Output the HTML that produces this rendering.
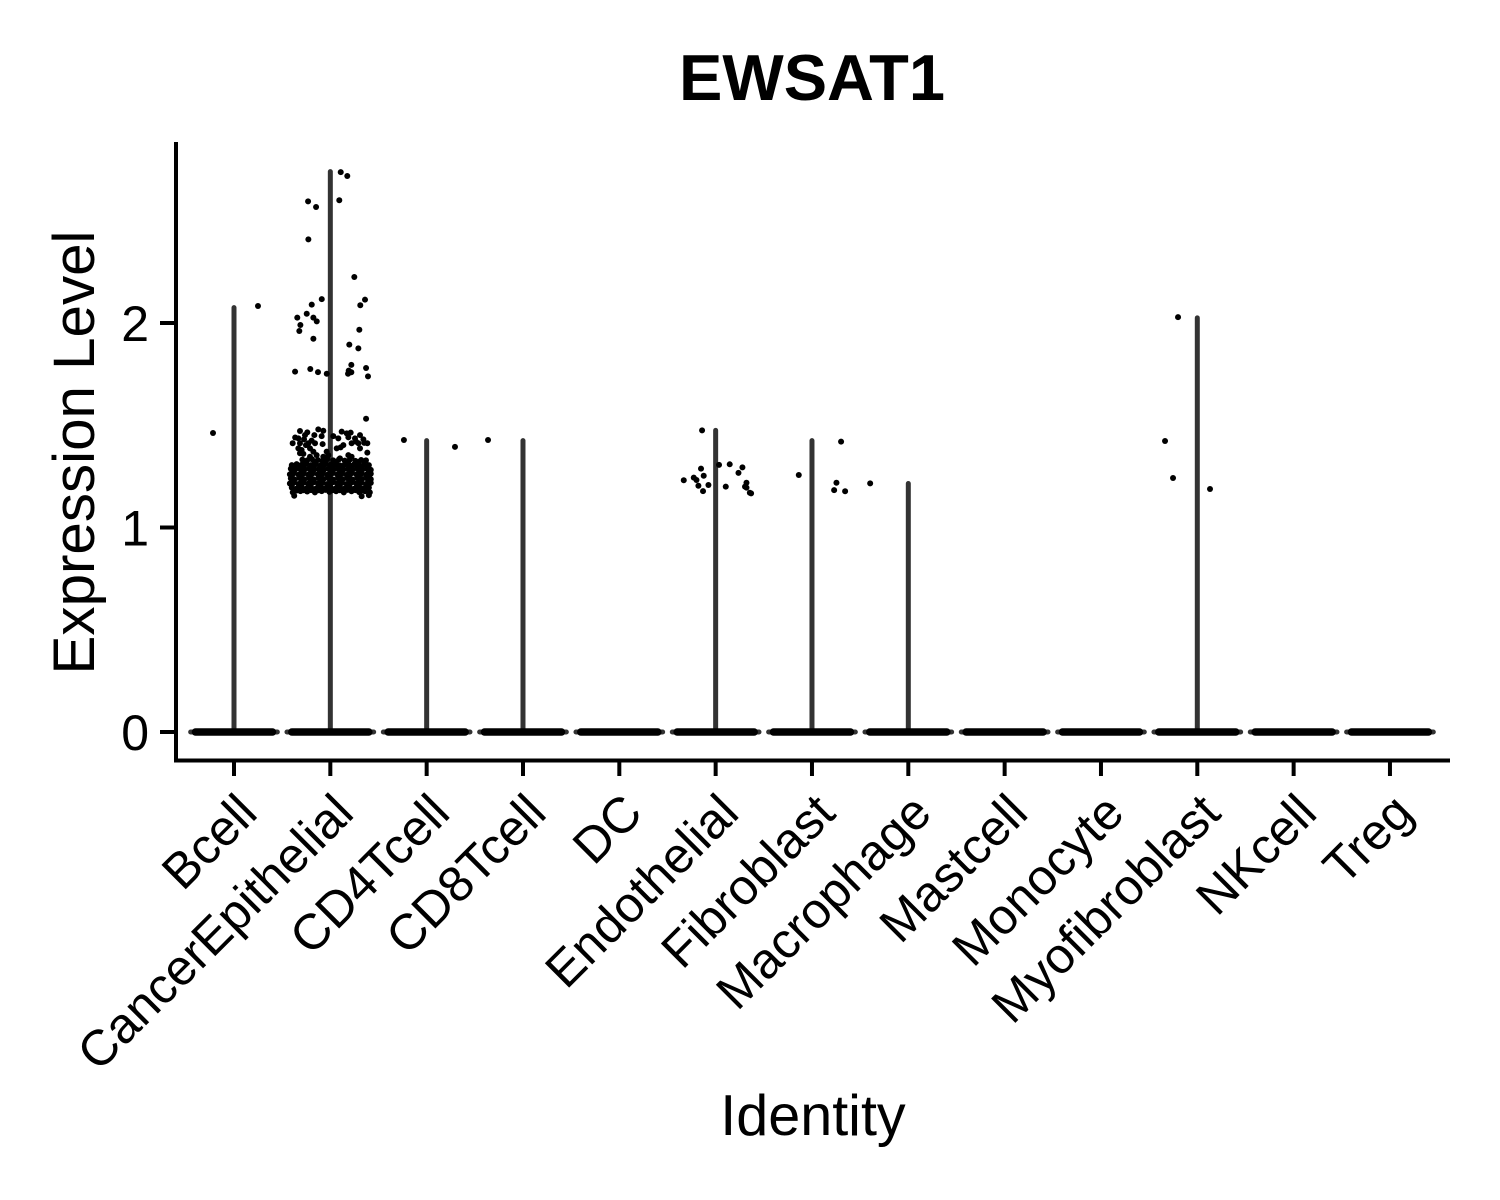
<!DOCTYPE html>
<html lang="en">
<head>
<meta charset="utf-8">
<title>EWSAT1</title>
<style>
html,body{margin:0;padding:0;background:#fff;}
svg{display:block;}
text{font-family:"Liberation Sans",Helvetica,Arial,sans-serif;fill:#000;}
</style>
</head>
<body>
<svg id="chart" width="1500" height="1200" viewBox="0 0 1500 1200" xmlns="http://www.w3.org/2000/svg">
<rect width="1500" height="1200" fill="#fff"/>
<text x="812" y="100" font-size="65" font-weight="700" text-anchor="middle">EWSAT1</text>
<text transform="translate(94,452.5) rotate(-90)" font-size="58.3" text-anchor="middle">Expression Level</text>
<text x="813" y="1135" font-size="57.5" text-anchor="middle">Identity</text>
<g id="marks"></g>
<g id="axes"></g>
</svg>
<script>
const categories = ["Bcell","CancerEpithelial","CD4Tcell","CD8Tcell","DC","Endothelial","Fibroblast","Macrophage","Mastcell","Monocyte","Myofibroblast","NKcell","Treg"];
const yTicks = [0, 1, 2];
const violinMax = [2.075, 2.74, 1.425, 1.425, 0, 1.475, 1.425, 1.215, 0, 0, 2.025, 0, 0];
const zeroSpread = [0.45, 0.45, 0.45, 0.45, 0.45, 0.45, 0.45, 0.45, 0.45, 0.45, 0.45, 0.45, 0.45];
/* points are [jitter offset in category units, expression value] */
const bcellPoints = [[-0.218,1.462],[0.249,2.083]];
const cancerSparse = [[0.108,2.738],[0.176,2.719],[0.093,2.6],[-0.231,2.595],[-0.148,2.567],[-0.228,2.409],[0.249,2.225],[0.36,2.114],[0.311,2.087],[-0.089,2.117],[-0.193,2.09],[-0.245,2.045],[-0.343,2.026],[-0.176,2.026],[-0.141,2.008],[-0.311,1.99],[-0.322,1.961],[0.301,1.967],[-0.176,1.923],[0.197,1.894],[0.291,1.876],[0.218,1.795],[0.371,1.78],[0.391,1.739],[-0.366,1.762],[-0.208,1.775],[-0.128,1.76],[-0.037,1.752],[0.191,1.767],[0.218,1.759],[0.184,1.752],[0.199,1.762],[0.371,1.532]];
const cancerUpper = [[-0.315,1.472],[-0.239,1.465],[-0.125,1.48],[-0.073,1.473],[-0.166,1.452],[-0.332,1.436],[-0.273,1.431],[-0.194,1.425],[-0.391,1.412],[-0.315,1.412],[-0.228,1.412],[-0.159,1.412],[-0.08,1.408],[-0.332,1.387],[-0.298,1.379],[-0.211,1.387],[-0.176,1.371],[-0.315,1.363],[0.031,1.447],[0.118,1.469],[0.17,1.46],[0.211,1.464],[0.083,1.436],[0.187,1.441],[0.308,1.452],[0.256,1.436],[0.343,1.431],[0.221,1.412],[0.291,1.412],[0.384,1.412],[0.135,1.403],[0.066,1.387],[0.107,1.392],[0.308,1.387],[0.384,1.366],[0.187,1.354],[0.221,1.346],[-0.038,1.371],[-0.021,1.354],[-0.073,1.346],[-0.142,1.354],[-0.211,1.346],[0.1,1.338],[-0.263,1.452],[-0.09,1.447],[-0.253,1.403],[0.267,1.42],[0.352,1.414],[-0.365,1.44],[-0.28,1.36]];
const cancerDense = [
[-0.29,1.332],[-0.24,1.328],[-0.19,1.334],[-0.13,1.33],[-0.08,1.326],[-0.03,1.335],[0.03,1.328],[0.09,1.333],[0.15,1.327],[0.2,1.331],[0.26,1.326],[0.32,1.33],[0.37,1.328],
[-0.4,1.305],[-0.35,1.31],[-0.3,1.306],[-0.25,1.312],[-0.2,1.305],[-0.15,1.31],[-0.1,1.304],[-0.05,1.311],[0,1.306],[0.05,1.31],[0.1,1.304],[0.15,1.309],[0.2,1.305],[0.25,1.31],[0.3,1.304],[0.35,1.309],[0.4,1.305],
[-0.41,1.287],[-0.37,1.28],[-0.32,1.287],[-0.27,1.282],[-0.22,1.288],[-0.17,1.283],[-0.12,1.286],[-0.07,1.28],[-0.02,1.287],[0.03,1.282],[0.08,1.288],[0.13,1.28],[0.18,1.286],[0.23,1.282],[0.28,1.288],[0.33,1.281],[0.38,1.287],[0.42,1.282],
[-0.42,1.26],[-0.38,1.265],[-0.33,1.258],[-0.28,1.264],[-0.23,1.259],[-0.18,1.265],[-0.13,1.26],[-0.08,1.264],[-0.03,1.258],[0.02,1.265],[0.07,1.26],[0.12,1.264],[0.17,1.258],[0.22,1.265],[0.27,1.26],[0.32,1.264],[0.37,1.258],[0.42,1.263],
[-0.41,1.24],[-0.37,1.235],[-0.32,1.242],[-0.27,1.236],[-0.22,1.24],[-0.17,1.235],[-0.12,1.242],[-0.07,1.237],[-0.02,1.241],[0.03,1.235],[0.08,1.242],[0.13,1.236],[0.18,1.24],[0.23,1.235],[0.28,1.242],[0.33,1.237],[0.38,1.24],[0.42,1.236],
[-0.42,1.215],[-0.38,1.22],[-0.33,1.213],[-0.28,1.219],[-0.23,1.214],[-0.18,1.22],[-0.13,1.215],[-0.08,1.218],[-0.03,1.213],[0.02,1.22],[0.07,1.215],[0.12,1.218],[0.17,1.213],[0.22,1.22],[0.27,1.215],[0.32,1.219],[0.37,1.213],[0.42,1.218],
[-0.4,1.195],[-0.35,1.19],[-0.3,1.197],[-0.25,1.191],[-0.2,1.196],[-0.15,1.19],[-0.1,1.197],[-0.05,1.192],[0,1.196],[0.05,1.19],[0.1,1.197],[0.15,1.191],[0.2,1.196],[0.25,1.19],[0.3,1.197],[0.35,1.192],[0.4,1.195],
[-0.39,1.172],[-0.31,1.178],[-0.24,1.176],[-0.16,1.172],[-0.09,1.178],[-0.01,1.174],[0.06,1.177],[0.14,1.172],[0.22,1.177],[0.3,1.173],[0.36,1.177],[0.41,1.172],
[-0.375,1.155],[0.325,1.153],[0.4,1.158]
];
const cancerDenseFill = [
[-0.265,1.318],[-0.16,1.32],[-0.055,1.318],[0.06,1.32],[0.175,1.318],[0.29,1.32],
[-0.375,1.296],[-0.275,1.297],[-0.175,1.296],[-0.075,1.297],[0.025,1.296],[0.125,1.297],[0.225,1.296],[0.325,1.297],[0.39,1.295],
[-0.395,1.273],[-0.295,1.272],[-0.195,1.274],[-0.095,1.272],[0.005,1.273],[0.105,1.274],[0.205,1.272],[0.305,1.273],[0.4,1.272],
[-0.4,1.25],[-0.305,1.248],[-0.205,1.25],[-0.105,1.249],[-0.005,1.25],[0.095,1.248],[0.195,1.25],[0.295,1.249],[0.395,1.25],
[-0.39,1.228],[-0.295,1.226],[-0.195,1.228],[-0.095,1.227],[0.005,1.228],[0.105,1.226],[0.205,1.228],[0.305,1.227],[0.4,1.227],
[-0.4,1.205],[-0.305,1.204],[-0.205,1.206],[-0.105,1.205],[-0.005,1.204],[0.095,1.206],[0.195,1.205],[0.295,1.204],[0.395,1.205],
[-0.35,1.181],[-0.275,1.182],[-0.2,1.183],[-0.125,1.182],[-0.05,1.184],[0.025,1.183],[0.1,1.182],[0.18,1.184],[0.26,1.183],[0.335,1.182]
];
const cd4Points = [[-0.236,1.428],[0.294,1.394]];
const cd8Points = [[-0.363,1.428]];
const endothelialPoints = [[-0.141,1.475],[-0.331,1.231],[-0.227,1.244],[-0.199,1.232],[-0.152,1.288],[-0.124,1.253],[-0.179,1.204],[-0.075,1.208],[-0.131,1.178],[0.035,1.306],[0.146,1.309],[0.278,1.294],[0.237,1.267],[0.105,1.2],[0.32,1.219],[0.305,1.2],[0.32,1.195],[0.368,1.167],[0.355,1.17]];
const fibroblastPoints = [[-0.137,1.257],[0.302,1.42],[0.254,1.219],[0.23,1.183],[0.344,1.177]];
const macrophagePoints = [[-0.396,1.216]];
const myofibroblastPoints = [[-0.335,1.423],[-0.252,1.242],[-0.2,2.029],[0.132,1.188]];

const NS = "http://www.w3.org/2000/svg";
const marks = document.getElementById("marks");
const axes = document.getElementById("axes");
function xScale(c){ return 234 + 96.33 * c; }
function yScale(v){ return 732 - 204.5 * v; }
function make(parent, tag, attrs){
  const el = document.createElementNS(NS, tag);
  for (const k in attrs) el.setAttribute(k, attrs[k]);
  parent.appendChild(el);
  return el;
}
/* violin stems and zero strips */
categories.forEach(function(name, i){
  if (violinMax[i] > 0) {
    const stem = make(marks, "line", {x1:xScale(i), x2:xScale(i), y1:yScale(0), y2:yScale(violinMax[i]), stroke:"#333", "stroke-width":5, "stroke-linecap":"round"});
    
    
  }
  const halo = make(marks, "line", {x1:xScale(i - zeroSpread[i]), x2:xScale(i + zeroSpread[i]), y1:yScale(0), y2:yScale(0), stroke:"#333", "stroke-width":5, "stroke-linecap":"round"});
  
  
  const strip = make(marks, "line", {x1:xScale(i - zeroSpread[i] + 0.05), x2:xScale(i + zeroSpread[i] - 0.05), y1:yScale(0), y2:yScale(0), stroke:"#000", "stroke-width":7.5, "stroke-linecap":"round"});
  
  
});
/* jittered points */
function drawPoints(catIndex, pts){
  pts.forEach(function(p){
    const dot = make(marks, "circle", {cx:xScale(catIndex + p[0]), cy:yScale(p[1]), r:3, fill:"#000"});
    
    
  });
}
drawPoints(0, bcellPoints);
drawPoints(1, cancerSparse);
drawPoints(1, cancerUpper);
drawPoints(1, cancerDense);
drawPoints(1, cancerDenseFill);
drawPoints(2, cd4Points);
drawPoints(3, cd8Points);
drawPoints(5, endothelialPoints);
drawPoints(6, fibroblastPoints);
drawPoints(7, macrophagePoints);
drawPoints(10, myofibroblastPoints);
/* axes */
const yAxisLine = make(axes, "line", {x1:176, x2:176, y1:142, y2:762, stroke:"#000", "stroke-width":4});


const xAxisLine = make(axes, "line", {x1:174, x2:1450, y1:760.5, y2:760.5, stroke:"#000", "stroke-width":4});


yTicks.forEach(function(v){
  const tick = make(axes, "line", {x1:160, x2:176, y1:yScale(v), y2:yScale(v), stroke:"#000", "stroke-width":4});
  
  
  const label = make(axes, "text", {x:149, y:yScale(v) + 18, "font-size":50, "text-anchor":"end"});
  
  
  label.textContent = String(v);
});
categories.forEach(function(name, i){
  const tick = make(axes, "line", {x1:xScale(i), x2:xScale(i), y1:760, y2:776, stroke:"#000", "stroke-width":4});
  
  
  const label = make(axes, "text", {transform:"translate(" + (xScale(i) + 25.5) + ",815.5) rotate(-45)", "font-size":50, "text-anchor":"end"});
  
  
  label.textContent = name;
});
</script>
</body>
</html>
